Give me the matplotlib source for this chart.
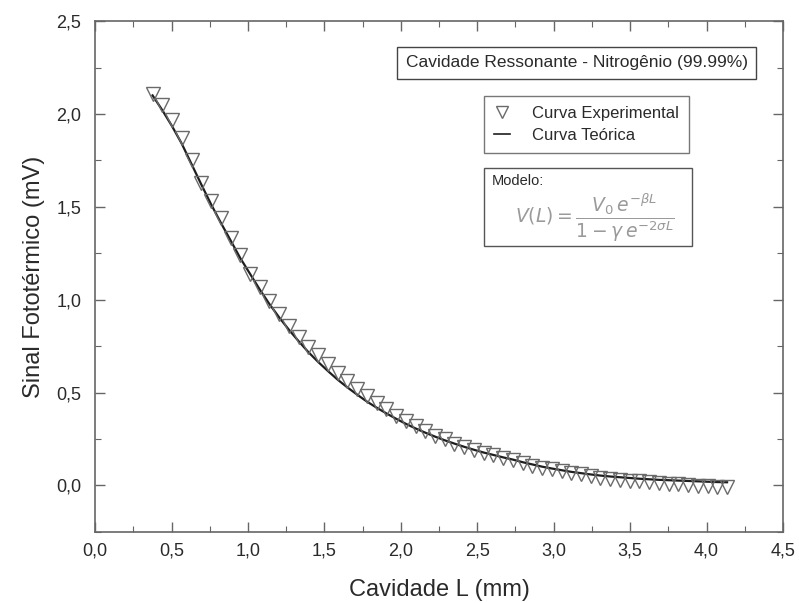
import matplotlib
matplotlib.use("Agg")
import matplotlib.pyplot as plt
from matplotlib.ticker import MultipleLocator, FuncFormatter
from matplotlib.lines import Line2D

plt.rcParams["font.family"] = ["Liberation Sans", "DejaVu Sans"]

# Cavidade L (mm) e sinal medido (mV)
cavidade = [0.376, 0.440, 0.503, 0.567, 0.631, 0.695, 0.758, 0.822, 0.886, 0.949,
            1.013, 1.077, 1.140, 1.204, 1.268, 1.332, 1.395, 1.459, 1.523, 1.586,
            1.650, 1.714, 1.777, 1.841, 1.905, 1.969, 2.032, 2.096, 2.160, 2.223,
            2.287, 2.351, 2.414, 2.478, 2.542, 2.606, 2.669, 2.733, 2.797, 2.860,
            2.924, 2.988, 3.051, 3.115, 3.179, 3.243, 3.306, 3.370, 3.434, 3.497,
            3.561, 3.625, 3.688, 3.752, 3.816, 3.880, 3.943, 4.007, 4.071, 4.134]

sinal_exp = [2.11, 2.05, 1.97, 1.87, 1.75, 1.63, 1.53, 1.44, 1.33, 1.24,
             1.14, 1.07, 0.995, 0.925, 0.86, 0.80, 0.745, 0.70, 0.655, 0.605,
             0.562, 0.52, 0.481, 0.443, 0.411, 0.375, 0.346, 0.319, 0.293, 0.268,
             0.248, 0.225, 0.206, 0.192, 0.175, 0.162, 0.147, 0.135, 0.12, 0.104,
             0.093, 0.086, 0.076, 0.066, 0.059, 0.049, 0.039, 0.033, 0.030, 0.026,
             0.022, 0.016, 0.011, 0.008, 0.005, 0.001, -0.002, -0.005, -0.008, -0.011]

# curva ajustada pelo modelo
sinal_teo = [2.10, 2.02, 1.935, 1.84, 1.73, 1.62, 1.515, 1.415, 1.32, 1.225,
             1.14, 1.055, 0.977, 0.905, 0.838, 0.776, 0.718, 0.665, 0.616, 0.570,
             0.528, 0.489, 0.452, 0.419, 0.388, 0.359, 0.332, 0.307, 0.284, 0.263,
             0.243, 0.225, 0.208, 0.192, 0.177, 0.164, 0.151, 0.139, 0.125, 0.113,
             0.101, 0.091, 0.082, 0.073, 0.066, 0.059, 0.053, 0.048, 0.044, 0.040,
             0.036, 0.033, 0.030, 0.028, 0.026, 0.024, 0.022, 0.020, 0.018, 0.017]

COR_TEXTO = "#2a2a2a"
COR_EIXO = "#666666"

fig = plt.figure(figsize=(7.99, 6.03), dpi=100)
ax = fig.add_axes([0.119, 0.118, 0.861, 0.847])

ax.plot(cavidade, sinal_teo, color="#1e1e1e", lw=1.6, zorder=2)
ax.plot(cavidade, sinal_exp, linestyle="none", marker="v", markersize=9.5,
        markerfacecolor="none", markeredgecolor="#6a6a6a", markeredgewidth=1.0, zorder=3)

ax.set_xlim(0, 4.5)
ax.set_ylim(-0.25, 2.5)
ax.xaxis.set_major_locator(MultipleLocator(0.5))
ax.xaxis.set_minor_locator(MultipleLocator(0.25))
ax.yaxis.set_major_locator(MultipleLocator(0.5))
ax.yaxis.set_minor_locator(MultipleLocator(0.25))

virgula = FuncFormatter(lambda v, pos: f"{v:.1f}".replace(".", ","))
ax.xaxis.set_major_formatter(virgula)
ax.yaxis.set_major_formatter(virgula)

ax.tick_params(which="both", direction="in", top=True, right=True,
               color=COR_EIXO, labelcolor=COR_TEXTO, labelsize=13)
ax.tick_params(which="major", length=7, width=1)
ax.tick_params(which="minor", length=4, width=0.8)
ax.tick_params(axis="x", pad=8)
ax.tick_params(axis="y", pad=10)
for sp in ax.spines.values():
    sp.set_color(COR_EIXO)
    sp.set_linewidth(1.2)

ax.set_xlabel("Cavidade L (mm)", fontsize=17, color=COR_TEXTO, labelpad=14)
ax.set_ylabel("Sinal Fototérmico (mV)", fontsize=17, color=COR_TEXTO, labelpad=8)

ax.text(0.70, 0.918, "Cavidade Ressonante - Nitrogênio (99.99%)",
        transform=ax.transAxes, ha="center", va="center", fontsize=12.5,
        color=COR_TEXTO,
        bbox=dict(boxstyle="square,pad=0.5", fc="white", ec="#444444", lw=1.0))

handles = [
    Line2D([], [], linestyle="none", marker="v", markersize=8,
           markerfacecolor="none", markeredgecolor="#6a6a6a"),
    Line2D([], [], color="#1e1e1e", lw=1.2),
]
leg = ax.legend(handles, ["Curva Experimental", "Curva Teórica"],
                loc="upper left", bbox_to_anchor=(0.565, 0.853), fontsize=12,
                frameon=True, fancybox=False, handlelength=1.0, handletextpad=1.3,
                borderpad=0.6, labelspacing=0.4, borderaxespad=0)
leg.get_frame().set_edgecolor("#555555")
leg.get_frame().set_linewidth(1.0)
for t in leg.get_texts():
    t.set_color(COR_TEXTO)

# caixa com o modelo
ax.add_patch(plt.Rectangle((0.5655, 0.56), 0.3025, 0.152, transform=ax.transAxes,
                           fc="white", ec="#555555", lw=1.0, zorder=4))
ax.text(0.576, 0.70, "Modelo:", transform=ax.transAxes, ha="left", va="top",
        fontsize=10.5, color=COR_TEXTO, zorder=5)
ax.text(0.727, 0.615,
        r"$V(L) = \dfrac{V_0\,e^{-\beta L}}{1-\gamma\,e^{-2\sigma L}}$",
        transform=ax.transAxes, ha="center", va="center", fontsize=13.5,
        color="#9a9a9a", zorder=5)

fig.savefig("out.png", dpi=100)
